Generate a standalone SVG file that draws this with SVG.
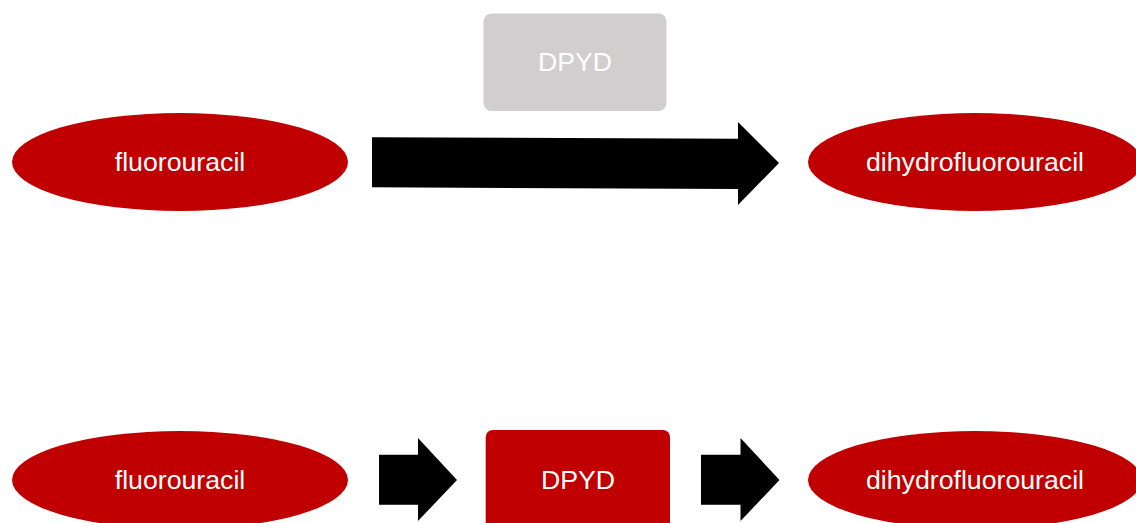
<svg xmlns="http://www.w3.org/2000/svg" width="1136" height="523" viewBox="0 0 1136 523">
  <style>
    .met { fill: #c00000; }
    .enz { fill: #c00000; }
    .enz-off { fill: #d0cecf; }
    .lbl { font-family: "Liberation Sans", Arial, sans-serif; font-size: 26.7px; fill: #ffffff; text-anchor: middle; }
    .arrow { fill: #000000; }
  </style>
  <rect width="1136" height="523" fill="#ffffff"/>

  <!-- upper reaction: direct conversion, enzyme shown inactive -->
  <g id="enzyme-top">
    <rect class="enz-off" x="483.5" y="13.5" width="183" height="97.5" rx="8"/>
    <text class="lbl" x="575" y="71" fill="#f7f7f7">DPYD</text>
  </g>
  <g id="substrate-top">
    <ellipse class="met" cx="180" cy="162" rx="168" ry="49"/>
    <text class="lbl" x="180" y="171">fluorouracil</text>
  </g>
  <g id="product-top">
    <ellipse class="met" cx="975" cy="162" rx="167" ry="49"/>
    <text class="lbl" x="975" y="171">dihydrofluorouracil</text>
  </g>

  <!-- lower reaction: substrate -> enzyme -> product -->
  <g id="substrate-bottom">
    <ellipse class="met" cx="180" cy="480" rx="168" ry="49"/>
    <text class="lbl" x="180" y="489">fluorouracil</text>
  </g>
  <g id="enzyme-bottom">
    <rect class="enz" x="485.7" y="430" width="184.3" height="110" rx="7"/>
    <text class="lbl" x="578" y="489">DPYD</text>
  </g>
  <g id="product-bottom">
    <ellipse class="met" cx="975" cy="480" rx="167" ry="49"/>
    <text class="lbl" x="975" y="489">dihydrofluorouracil</text>
  </g>

  <!-- block arrows -->
  <g id="connectors">
    <polygon class="arrow" points="372,137.3 738,138.7 738,122 779,163 738,205 738,189 372,187.3"/>
    <polygon class="arrow" points="379,454.7 418,454.7 418,438 457,480 418,521 418,504.7 379,504.7"/>
    <polygon class="arrow" points="701,454.7 740.5,454.7 740.5,438 779.5,480 740.5,521 740.5,504.7 701,504.7"/>
  </g>
</svg>
